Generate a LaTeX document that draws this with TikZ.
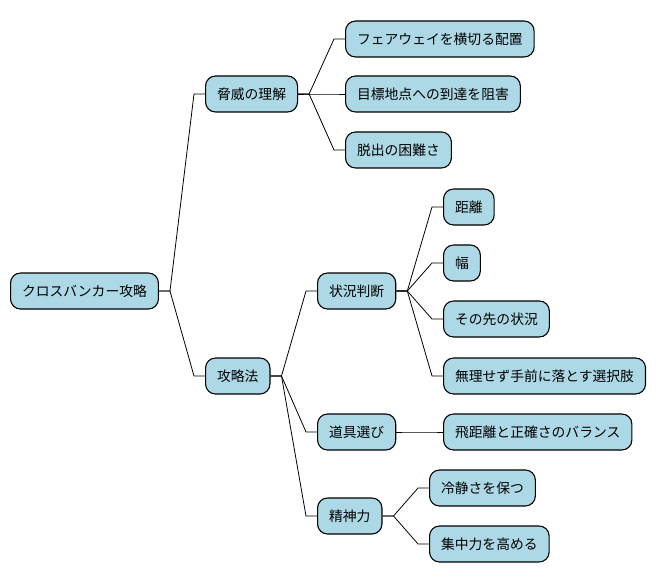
\documentclass[tikz,border=0pt]{standalone}
\usepackage{fontspec}
\newfontfamily\jpfont{Noto Sans CJK JP}
\usetikzlibrary{calc}
\definecolor{boxblue}{RGB}{173,216,230}
\tikzset{
  topic/.style={draw=black, line width=1.1pt, fill=boxblue, rounded corners=10pt,
    anchor=west, minimum height=36pt, inner xsep=11.5pt, inner ysep=0pt,
    font=\jpfont\fontsize{13.8}{16}\selectfont},
  branch/.style={line width=0.8pt, black}
}
\begin{document}
\begin{tikzpicture}[x=1pt, y=-1pt]
\useasboundingbox (0,0) rectangle (656,583);
\node[topic] (root) at (10,291) {クロスバンカー攻略};
\node[topic] (threat) at (205,94) {脅威の理解};
\node[topic] (fairway) at (345,39) {フェアウェイを横切る配置};
\node[topic] (target) at (345,94) {目標地点への到達を阻害};
\node[topic] (escape) at (345,150) {脱出の困難さ};
\node[topic] (attack) at (205,376) {攻略法};
\node[topic] (judge) at (317,291) {状況判断};
\node[topic] (dist) at (443,207) {距離};
\node[topic] (width) at (443,263) {幅};
\node[topic] (beyond) at (443,319) {その先の状況};
\node[topic] (layup) at (443,376) {無理せず手前に落とす選択肢};
\node[topic] (club) at (317,432) {道具選び};
\node[topic] (balance) at (443,432) {飛距離と正確さのバランス};
\node[topic] (mind) at (317,516) {精神力};
\node[topic] (calm) at (429,488) {冷静さを保つ};
\node[topic] (focus) at (429,544) {集中力を高める};
% connectors
\foreach \a/\b in {root/threat, root/attack, threat/fairway, threat/target, threat/escape,
  attack/judge, attack/club, attack/mind, judge/dist, judge/width, judge/beyond, judge/layup,
  club/balance, mind/calm, mind/focus}
{
\path (\a.east) ++(11pt,0) coordinate (s) (\b.west) ++(-11pt,0) coordinate (t);
\draw[branch] (\a.east) -- (s)
  .. controls ($(s)!0.1!(t)$ |- s) and ($(s)!0.5!(t)$ |- t) .. (t) -- (\b.west);
}
\end{tikzpicture}
\end{document}
